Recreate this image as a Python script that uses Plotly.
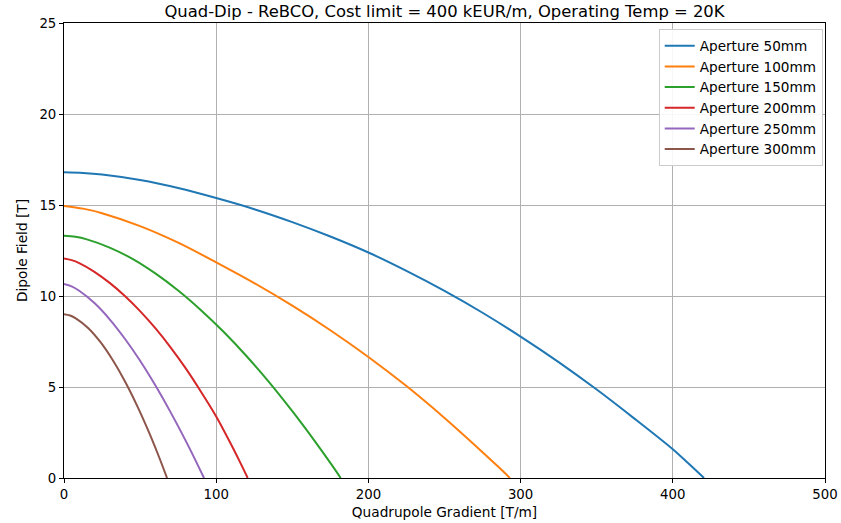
import plotly.graph_objects as go

# Aperture 50mm
g50 = [0, 12.5, 25, 50, 75, 100, 125, 150, 175, 200, 225, 250, 275, 300, 325, 350, 375, 400, 410, 420.5]
b50 = [16.8, 16.76, 16.67, 16.37, 15.93, 15.38, 14.77, 14.06, 13.27, 12.39, 11.38, 10.28, 9.08, 7.77, 6.37, 4.86, 3.25, 1.58, 0.82, 0.0]
# Aperture 100mm
g100 = [0, 12.5, 25, 50, 75, 100, 125, 150, 175, 200, 225, 250, 275, 285, 293]
b100 = [14.95, 14.8, 14.55, 13.84, 12.93, 11.85, 10.71, 9.47, 8.12, 6.65, 5.05, 3.3, 1.42, 0.64, 0.0]
# Aperture 150mm
g150 = [0, 7.5, 15, 30, 45, 60, 75, 90, 105, 120, 135, 150, 165, 175, 181.8]
b150 = [13.31, 13.25, 13.11, 12.66, 12.04, 11.24, 10.3, 9.22, 8.02, 6.69, 5.24, 3.67, 2.0, 0.83, 0.0]
# Aperture 200mm
g200 = [0, 5, 10, 20, 30, 40, 50, 60, 70, 80, 90, 100, 110, 115, 120.7]
b200 = [12.06, 11.97, 11.81, 11.33, 10.72, 10.0, 9.17, 8.23, 7.18, 6.02, 4.74, 3.38, 1.81, 0.98, 0.0]
# Aperture 250mm
g250 = [0, 5, 10, 20, 30, 40, 50, 60, 70, 80, 86, 92]
b250 = [10.66, 10.53, 10.29, 9.61, 8.72, 7.65, 6.44, 5.09, 3.62, 2.04, 1.04, 0.0]
# Aperture 300mm
g300 = [0, 4, 8, 16, 24, 32, 40, 48, 56, 62, 67.7]
b300 = [9.0, 8.93, 8.76, 8.23, 7.46, 6.48, 5.32, 3.98, 2.48, 1.25, 0.0]

series = [
    ("Aperture 50mm", g50, b50, "#1f77b4"),
    ("Aperture 100mm", g100, b100, "#ff7f0e"),
    ("Aperture 150mm", g150, b150, "#2ca02c"),
    ("Aperture 200mm", g200, b200, "#d62728"),
    ("Aperture 250mm", g250, b250, "#9467bd"),
    ("Aperture 300mm", g300, b300, "#8c564b"),
]

fig = go.Figure()
for name, gx, by, col in series:
    fig.add_trace(go.Scatter(x=gx, y=by, mode="lines", name=name,
                             line=dict(color=col, width=2, shape="spline", smoothing=0.9)))

font_family = "DejaVu Sans"
axis_common = dict(
    showgrid=True, gridcolor="#b0b0b0", gridwidth=1,
    showline=True, linecolor="#000000", linewidth=1, mirror=True,
    ticks="outside", ticklen=4, tickcolor="#000000", tickwidth=1,
    zeroline=False, automargin=False,
    tickfont=dict(family=font_family, size=13.3, color="#000000"),
)

fig.update_layout(
    width=841, height=523,
    margin=dict(l=64, r=16, t=23, b=45, autoexpand=False),
    paper_bgcolor="white", plot_bgcolor="white",
    font=dict(family=font_family, color="#000000"),
    title=dict(text="Quad-Dip - ReBCO, Cost limit = 400 kEUR/m, Operating Temp = 20K",
               x=0.5, xref="paper", xanchor="center",
               y=1 - 11 / 523, yref="container", yanchor="middle",
               font=dict(family=font_family, size=16.4, color="#000000")),
    xaxis=dict(range=[0, 500], tickvals=[0, 100, 200, 300, 400, 500],
               title=dict(text="Quadrupole Gradient [T/m]", standoff=6,
                          font=dict(family=font_family, size=13.7)),
               **axis_common),
    yaxis=dict(range=[0, 25], tickvals=[0, 5, 10, 15, 20, 25],
               title=dict(text="Dipole Field [T]", standoff=8,
                          font=dict(family=font_family, size=13.7)),
               **axis_common),
    legend=dict(x=0.997, y=0.986, xanchor="right", yanchor="top",
                bgcolor="rgba(255,255,255,0.9)", bordercolor="#cccccc", borderwidth=1,
                font=dict(family=font_family, size=13.6, color="#000000"),
                tracegroupgap=0, itemwidth=30),
    showlegend=True,
)

fig.write_html("out.html")
